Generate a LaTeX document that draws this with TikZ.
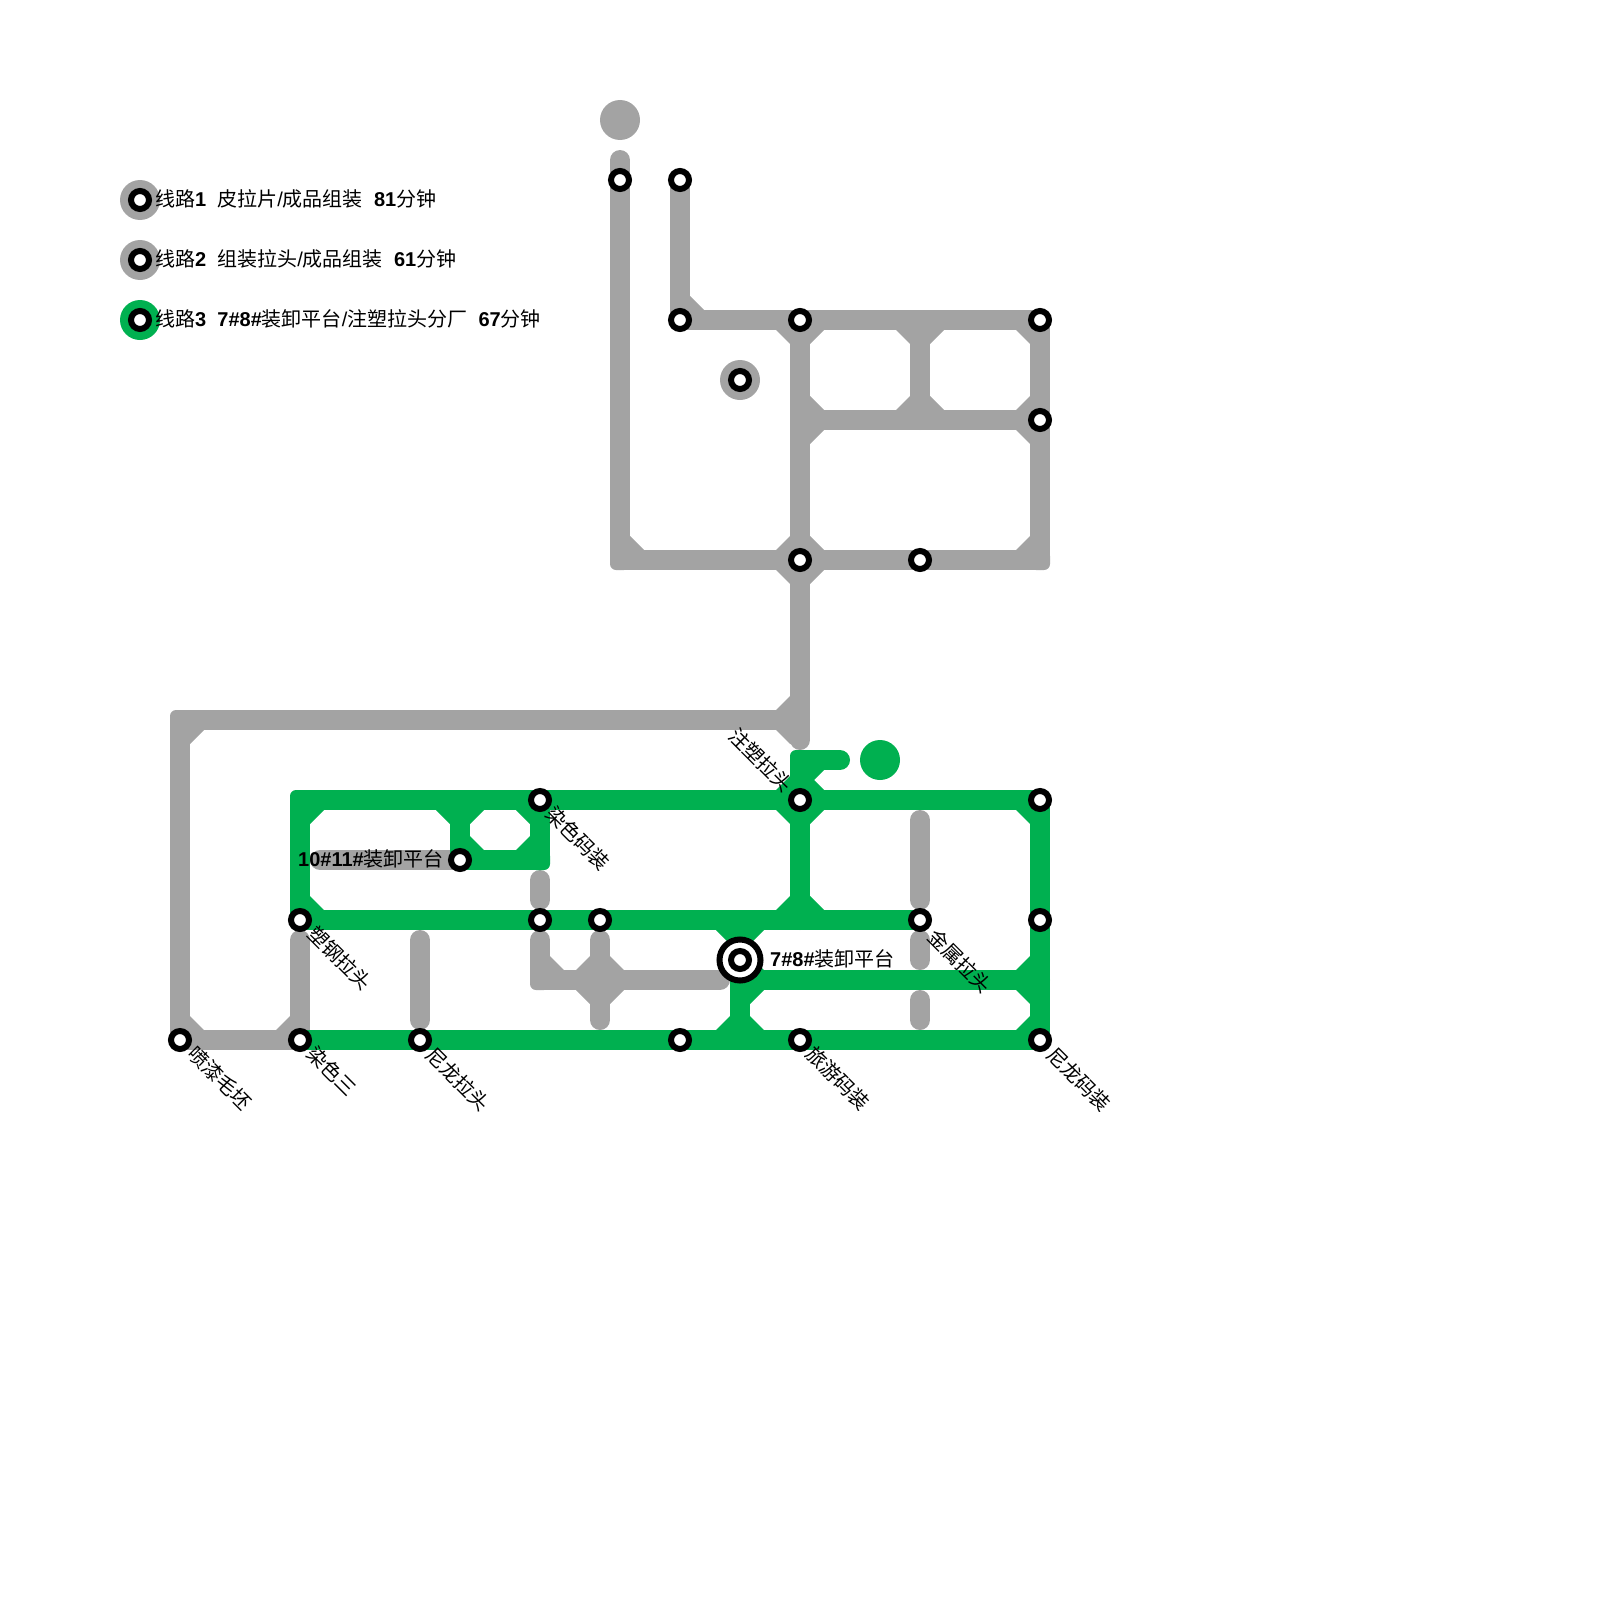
\documentclass[tikz,border=0pt]{standalone}
\usepackage{fontspec}
\setmainfont{Noto Sans CJK SC}
\newfontfamily\latf{Liberation Sans}
\newfontfamily\latb{Liberation Sans Bold}
\newcommand\bld[1]{{\latb #1}}
\newcommand\lsl{{\latf /}}
\newcommand\gap{\hspace*{11.1pt}}
\definecolor{lgrey}{HTML}{A3A3A3}
\definecolor{lgreen}{HTML}{00B050}
\pgfdeclarelayer{lines}
\pgfsetlayers{lines,main}
\tikzset{
 stn/.style={circle,draw=black,fill=white,line width=6pt,minimum size=18pt,inner sep=0pt},
 bigstn/.style={circle,draw=black,fill=white,line width=6pt,minimum size=41pt,inner sep=0pt},
 dot/.style={circle,minimum size=40pt,inner sep=0pt,outer sep=0pt},
 lin/.style={line width=20pt,line cap=round},
 txt/.style={font=\fontsize{20pt}{24pt}\selectfont,inner sep=0pt,text=black},
 rtxt/.style={txt,rotate=-45},
}
\newcommand\sg[2]{\draw[lin] (#1.center) -- (#2.center);}
\newcommand\chm[3]{\fill[shift={(#1.center)},xscale=#2,yscale=#3] (9,9) -- (9,24) -- (10,24) -- (24,10) -- (24,9) -- cycle;}
\newcommand\cUL[1]{\chm{#1}{-1}{-1}}
\newcommand\cUR[1]{\chm{#1}{1}{-1}}
\newcommand\cLL[1]{\chm{#1}{-1}{1}}
\newcommand\cLR[1]{\chm{#1}{1}{1}}
\newcommand\cnr[1]{\fill[shift={(#1.center)},rounded corners=6pt] (-10,-10) rectangle (10,10);}
\begin{document}
\begin{tikzpicture}[x=1pt,y=-1pt]
\useasboundingbox (0,0) rectangle (1600,1600);
% free ends and bends
\foreach \xx/\yy in {620/160,620/560,1040/560,800/420,920/320,920/420,800/720,800/740,180/720,
  300/940,420/940,420/1020,540/880,540/900,540/940,540/980,600/940,600/980,600/1020,720/980,
  920/820,920/900,920/940,920/960,920/1000,920/1020,320/860,
  300/800,460/800,460/860,540/860,800/760,840/760,800/920,740/920,740/980,740/1040,1040/980}
  {\coordinate (n\xx-\yy) at (\xx,\yy);}
% terminal dots and legend discs
\node[dot,fill=lgrey] (d1) at (620,120) {};
\node[dot,fill=lgreen] (d2) at (880,760) {};
\node[dot,fill=lgrey] (d3) at (740,380) {};
\node[dot,fill=lgrey] (k1) at (140,200) {};
\node[dot,fill=lgrey] (k2) at (140,260) {};
\node[dot,fill=lgreen] (k3) at (140,320) {};
% stations
\foreach \xx/\yy in {620/180,680/180,680/320,800/320,1040/320,1040/420,800/560,920/560,740/380,
  540/800,460/860,300/920,540/920,600/920,920/920,1040/800,800/800,1040/920,
  180/1040,300/1040,420/1040,680/1040,800/1040,1040/1040,140/200,140/260,140/320}
  {\node[stn] (n\xx-\yy) at (\xx,\yy) {};}
\node[bigstn] (n740-960) at (740,960) {};
\node[stn] (n740-960i) at (740,960) {};
% lines
\begin{pgfonlayer}{lines}
\begin{scope}[color=lgrey]
 \sg{n620-160}{n620-560} \sg{n620-560}{n800-560} \sg{n800-560}{n1040-560}
 \sg{n680-180}{n680-320} \sg{n680-320}{n1040-320} \sg{n1040-320}{n1040-560}
 \sg{n800-320}{n800-740} \sg{n920-320}{n920-420} \sg{n800-420}{n1040-420}
 \sg{n180-720}{n800-720} \sg{n180-720}{n180-1040} \sg{n180-1040}{n300-1040} \sg{n300-940}{n300-1040}
 \sg{n420-940}{n420-1020} \sg{n540-880}{n540-900} \sg{n540-940}{n540-980} \sg{n540-980}{n720-980}
 \sg{n600-940}{n600-1020} \sg{n920-820}{n920-900} \sg{n920-940}{n920-960} \sg{n920-1000}{n920-1020}
 \sg{n320-860}{n460-860}
 \cnr{n620-560} \cnr{n1040-560} \cnr{n680-320} \cnr{n1040-320} \cnr{n180-720} \cnr{n180-1040} \cnr{n540-980}
 \cUR{n620-560} \cUR{n680-320}
 \cLL{n800-320} \cLR{n800-320} \cLL{n920-320} \cLR{n920-320} \cLL{n1040-320}
 \cUR{n800-420} \cLR{n800-420} \cUL{n920-420} \cUR{n920-420} \cUL{n1040-420} \cLL{n1040-420}
 \cUL{n800-560} \cUR{n800-560} \cLL{n800-560} \cLR{n800-560} \cUL{n1040-560}
 \cUL{n800-720} \cLL{n800-720} \cLR{n180-720} \cUR{n180-1040} \cUL{n300-1040}
 \cUR{n540-980} \cUL{n600-980} \cUR{n600-980} \cLL{n600-980} \cLR{n600-980}
\end{scope}
\begin{scope}[color=lgreen]
 \sg{n300-800}{n1040-800} \sg{n300-800}{n300-920} \sg{n300-920}{n920-920}
 \sg{n460-800}{n460-860} \sg{n460-860}{n540-860} \sg{n540-800}{n540-860}
 \sg{n800-760}{n840-760} \sg{n800-760}{n800-920}
 \sg{n740-920}{n740-1040} \sg{n740-980}{n1040-980}
 \sg{n1040-800}{n1040-1040} \sg{n300-1040}{n1040-1040}
 \cnr{n300-800} \cnr{n300-920} \cnr{n540-860} \cnr{n800-760} \cnr{n1040-800} \cnr{n1040-1040}
 \cLR{n300-800} \cUR{n300-920} \cLL{n460-800} \cLR{n460-800} \cUR{n460-860}
 \cUL{n540-860} \cLL{n540-800}
 \cLR{n800-760} \cUR{n800-800} \cUL{n800-800} \cLL{n800-800} \cLR{n800-800}
 \cUL{n800-920} \cUR{n800-920} \cLL{n740-920} \cLR{n740-920}
 \cUR{n740-980} \cLR{n740-980} \cUL{n740-1040} \cUR{n740-1040}
 \cLL{n1040-800} \cUL{n1040-980} \cLL{n1040-980} \cUL{n1040-1040}
\end{scope}
\end{pgfonlayer}
% legend
\node[txt,anchor=west] (t1) at (155,199) {线路\bld{1}\gap 皮拉片\lsl 成品组装\gap\bld{81}分钟};
\node[txt,anchor=west] (t2) at (155,259) {线路\bld{2}\gap 组装拉头\lsl 成品组装\gap\bld{61}分钟};
\node[txt,anchor=west] (t3) at (155,319) {线路\bld{3}\gap\bld{7\#8\#}装卸平台\lsl 注塑拉头分厂\gap\bld{67}分钟};
% station labels
\node[txt,anchor=west] (t4) at (298,859) {\bld{10\#11\#}装卸平台};
\node[txt,anchor=west] (t5) at (770,959) {\bld{7\#8\#}装卸平台};
\node[rtxt] (t6) at (220,1078) {喷漆毛坯};
\node[rtxt] (t7) at (332,1071) {染色三};
\node[rtxt] (t8) at (458,1079) {尼龙拉头};
\node[rtxt] (t9) at (340,958) {塑钢拉头};
\node[rtxt] (t10) at (578,838) {染色码装};
\node[rtxt] (t11) at (761,760) {注塑拉头};
\node[rtxt] (t12) at (960,961) {金属拉头};
\node[rtxt] (t13) at (838,1078) {旅游码装};
\node[rtxt] (t14) at (1079,1079) {尼龙码装};
\end{tikzpicture}
\end{document}
